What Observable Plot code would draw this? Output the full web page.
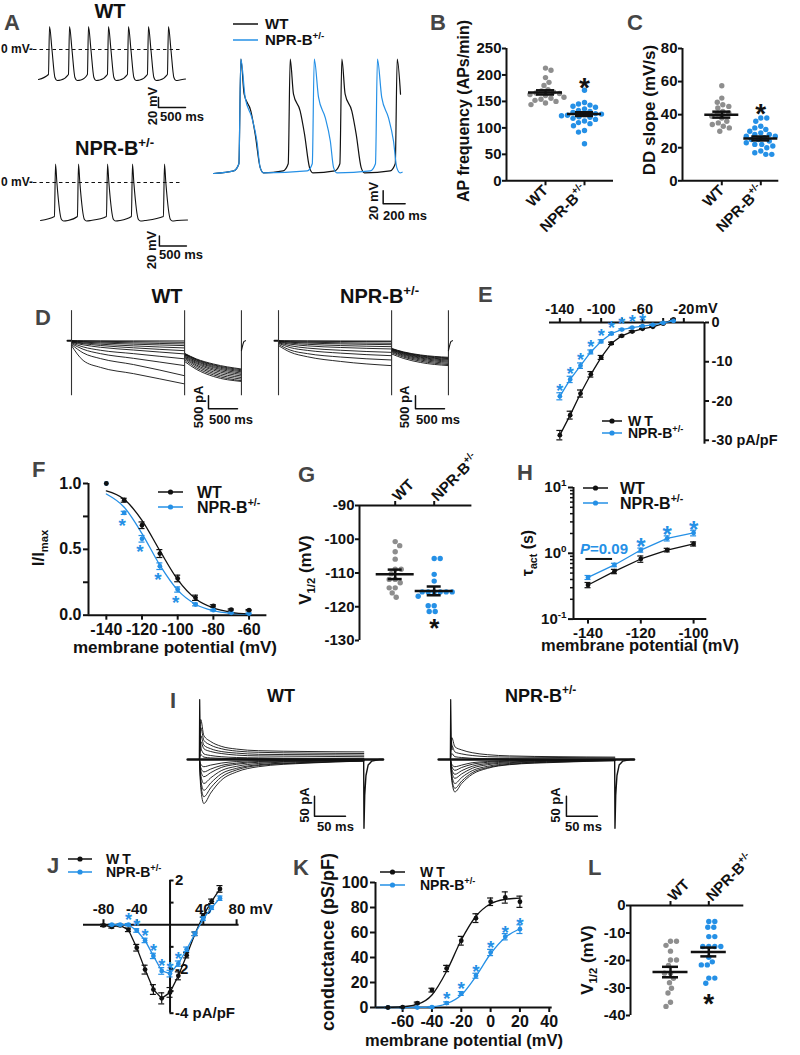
<!DOCTYPE html>
<html>
<head>
<meta charset="utf-8">
<script src="https://cdn.jsdelivr.net/npm/d3@7"></script>
<script src="https://cdn.jsdelivr.net/npm/@observablehq/plot@0.6"></script>
<style>
html,body{margin:0;padding:0;background:#fff;}
#root{position:relative;width:800px;height:1055px;overflow:hidden;background:#fff;}
#root svg{position:absolute;overflow:visible;}
</style>
</head>
<body>
<div id="root"></div>
<script>
// ======================= DATA =======================
// --- A: action potentials (time ms, membrane potential mV) ---
const apWT_spikes  = [204, 574, 925, 1295, 1665, 2035, 2405];
const apWT_shape   = [[-20,-50],[0,46],[45,0],[100,-56],[140,-62],[210,-61]];
const apNPR_spikes = [278, 703, 1240, 1702, 2294];
const apNPR_shape  = [[-20,-68],[0,37],[25,0],[110,-74],[150,-77],[230,-76]];
const ovWT_spikes  = [249, 698, 1168, 1672];
const ovWT_shape   = [[-64,-61],[-18,-50],[0,111],[30,57],[91,31],[130,-4],[176,-56],[206,-64]];
const ovNPR_spikes = [249, 917, 1492];
const ovNPR_shape  = [[-64,-61],[-18,-50],[0,111],[39,52],[100,21],[146,-15],[176,-56],[206,-64]];
const scaleA_WT  = [[2220,-96],[2220,-116],[2720,-116]];
const scaleA_NPR = [[2200,-107],[2200,-127],[2700,-127]];
const scaleA_OV  = [[1544,-91.6],[1544,-111.6],[1744,-111.6]];

// --- B / C: AP frequency and DD slope ---
const groupNames = ["WT", "NPR-B^{+/-}"];
const bWT  = [213,209,195,186,180,172,170,168,166,165,163,161,158,156,154,152,150,147,144];
const bNPR = [171,148,145,143,141,139,136,133,131,129,127,126,125,124,123,121,120,118,116,113,110,108,104,95,92,70];
const bMean = [167, 126], bSem = [4, 3.5];
const cWT  = [57.5,50,47.5,46,45,44,42,41,40.5,39,38,36,35,34,33,32,30];
const cNPR = [38,38,36,33,32,31,30,29,28,28,27,27,26,25,25,24,23,22,22,21,20,18,17,16,16];
const cMean = [40, 25.6], cSem = [1.8, 1.2];

// --- D: If current traces (time ms, current pA) ---
const dT     = [0, 200, 500, 1070, 1950];
const dTailT = [1950, 2150, 2450, 2930];
const dWT = [
  [0,-3,-6,-8,-10],[-5,-15,-25,-40,-65],[-15,-35,-55,-85,-127],[-25,-55,-90,-135,-190],
  [-40,-85,-135,-200,-280],[-50,-115,-185,-275,-385],[-65,-160,-255,-360,-510],
  [-85,-240,-370,-500,-700],[-115,-330,-500,-680,-960],[-150,-470,-690,-920,-1350],
  [-190,-760,-1030,-1270,-1665]];
const dWTtail = [
  [-490,-700,-900,-1090],[-500,-720,-930,-1120],[-510,-740,-960,-1160],[-530,-770,-1000,-1200],
  [-550,-800,-1040,-1250],[-580,-840,-1090,-1300],[-610,-880,-1140,-1360],[-640,-930,-1200,-1420],
  [-680,-980,-1260,-1480],[-730,-1040,-1320,-1540],[-800,-1100,-1380,-1570]];
const dNPR = [
  [0,-3,-6,-10,-15],[-8,-18,-25,-32,-38],[-18,-40,-60,-80,-100],[-28,-62,-92,-124,-154],
  [-42,-95,-140,-188,-231],[-58,-135,-200,-262,-320],[-78,-195,-285,-370,-450],
  [-100,-265,-375,-480,-578],[-140,-360,-500,-630,-744],[-190,-440,-620,-800,-962]];
const dNPRtail = [
  [-300,-430,-550,-640],[-310,-445,-570,-665],[-320,-460,-590,-690],[-335,-480,-615,-720],
  [-350,-500,-640,-750],[-370,-525,-670,-790],[-395,-555,-705,-830],[-420,-590,-745,-875],
  [-460,-630,-790,-920],[-510,-680,-840,-960]];
const dTransients = [0, 1950, 2930];
const dTransientRange = [-2120, 1155];
const dHook = [[2930,-385],[2955,-150],[2975,-30],[3000,0]];
const dBase = [[-69,0],[0,0]];
const scaleD = [[2362,-2118],[2362,-2618],[2862,-2618]];

// --- E: If current density (mV, pA/pF) ---
const eV      = [-140,-130,-120,-110,-100,-90,-80,-70,-60,-50,-40,-30];
const eWT     = [-28.7,-23.6,-18.1,-13.2,-8.9,-5.3,-3.4,-2.3,-1.6,-1.1,-0.3,0.8];
const eWTerr  = [1.2,1.0,0.9,0.7,0.5,0.3,0.2,0.2,0.1,0.1,0.1,0.1];
const eNPR    = [-18.8,-14.5,-11.0,-7.5,-4.8,-2.8,-1.8,-1.3,-0.9,-0.6,-0.1,0.4];
const eNPRerr = [0.9,0.8,0.7,0.5,0.4,0.3,0.2,0.1,0.1,0.1,0.1,0.1];
const eSig    = [-140,-130,-120,-110,-100,-90,-80,-70,-60];
const eXTicks = [-140,-120,-100,-80,-60,-40,-20];
const eXLabels = [-140,-100,-60,-20];
const eYTicks = [0,-10,-20,-30];

// --- F: activation (I/Imax) ---
const fV       = [-140,-130,-120,-110,-100,-90,-80,-70,-60];
const fWT      = [1.0,0.873,0.683,0.468,0.279,0.132,0.071,0.043,0.038];
const fWTerr   = [0,0.015,0.025,0.03,0.025,0.02,0.008,0.005,0.005];
const fNPR     = [1.0,0.777,0.58,0.372,0.195,0.081,0.038,0.018,0.013];
const fNPRerr  = [0,0.012,0.025,0.025,0.02,0.01,0.006,0.004,0.004];
const fWTfit   = [0.944,0.88,0.72,0.49,0.27,0.125,0.055,0.022,0.009];
const fNPRfit  = [0.92,0.82,0.62,0.38,0.19,0.083,0.034,0.013,0.005];
const fSig     = [-130,-120,-110,-100];

// --- G: V1/2 of If activation ---
const gWT  = [-100.7,-101.9,-103.7,-105.9,-108.9,-108.9,-110.2,-111.9,-111.9,-112.9,-114.4,-114.4,-115.9,-117.2];
const gNPR = [-105.7,-105.7,-110.4,-112.4,-115.6,-115.6,-115.6,-115.6,-115.6,-115.6,-116.9,-119.7,-119.7,-121.4,-121.4];
const gMean = [-110.4, -115.3], gSem = [1.4, 1.3];

// --- H: activation time constant (s) ---
const hV      = [-140,-130,-120,-110,-100];
const hWT     = [0.33,0.53,0.82,1.12,1.39];
const hWTerr  = [0.03,0.04,0.09,0.07,0.1];
const hNPR    = [0.43,0.665,1.12,1.69,2.04];
const hNPRerr = [0.03,0.04,0.08,0.15,0.2];
const hSig    = [-120,-110,-100];
const hMinor  = [0.2,0.3,0.4,0.5,0.6,0.7,0.8,0.9,2,3,4,5,6,7,8,9];
const hLabels = {10: "10^{1}", 1: "10^{0}", 0.1: "10^{-1}"};

// --- I: ICa,L traces (time ms, current pA) ---
const iT = [0,2,7,18,35,60,95,175,265];
const iWT = [
  [0,-70,-110,-84,-52,-31,-18,-9,-4],[0,-60,-93,-71,-44,-26,-15,-8,-4],[0,-50,-77,-59,-36,-22,-13,-7,-3],
  [0,-38,-60,-46,-28,-17,-10,-5,-3],[0,-28,-43,-33,-20,-12,-7,-4,-2],[0,-20,-31,-24,-15,-9,-5,-3,-1],
  [0,-12,-18,-14,-9,-5,-3,-2,-1],[0,100,60,45,33,26,22,20,19],[0,80,48,36,27,21,18,16,15],
  [0,60,36,27,20,16,13,12,11],[0,45,27,20,15,11,9,8,7],[0,25,14,10,7,5,4,3,3],[0,12,6,4,3,2,2,1,1]];
const iNPR = [
  [0,-52,-81,-60,-37,-22,-13,-7,-3],[0,-46,-72,-54,-33,-20,-12,-6,-3],[0,-38,-60,-45,-28,-17,-10,-5,-2],
  [0,-30,-47,-36,-22,-13,-8,-4,-2],[0,-24,-37,-28,-17,-10,-6,-3,-1],[0,-17,-27,-20,-12,-7,-4,-2,-1],
  [0,-12,-18,-14,-8,-5,-3,-2,-1],[0,55,32,24,17,12,9,7,6],[0,35,19,14,10,7,6,5,4],[0,15,7,5,3,2,2,1,1]];
const iCap  = [[-0.3,0],[0.3,150],[1.2,50],[2.5,25]];
const iTail = [[264.8,0],[265.3,-172],[266.5,-90],[268.5,-40],[272,-14],[278,-4],[290,0],[296,0]];
const iBase = [[-19,0],[296,0]];
const scaleI_WT  = [[185.5,-91.75],[185.5,-141.75],[235.5,-141.75]];
const scaleI_NPR = [[187,-91.75],[187,-141.75],[237,-141.75]];

// --- J: ICa,L I-V (mV, pA/pF) ---
const jV      = [-80,-70,-60,-50,-40,-30,-20,-10,0,10,20,30,40,50,60];
const jWT     = [-0.03,-0.1,-0.03,-0.23,-1.04,-2.03,-2.93,-3.33,-3.06,-2.31,-1.38,-0.41,0.42,1.06,1.62];
const jWTerr  = [0.05,0.05,0.05,0.08,0.15,0.2,0.22,0.25,0.22,0.18,0.12,0.08,0.08,0.1,0.15];
const jNPR    = [null,0,0,0,-0.26,-0.71,-1.41,-2.09,-2.21,-1.76,-1.11,-0.41,0.27,0.77,1.2];
const jNPRerr = [0,0.04,0.04,0.05,0.08,0.1,0.12,0.15,0.15,0.12,0.1,0.08,0.08,0.08,0.1];
const jSig    = [-50,-40,-30,-20,-10,0,10];
const jXTicks = [-80,-40,40,80];
const jYTicks = [-4,-3,-2,-1,1,2];
const jYLabels = [{v: 2, s: "2"}, {v: -2, s: "-2"}, {v: -4, s: "-4 pA/pF"}];

// --- K: conductance (mV, pS/pF) ---
const kV       = [-70,-60,-50,-40,-30,-20,-10,0,10,20];
const kWT      = [0,0.3,3.5,13.9,31.2,53.4,71.5,84.6,88,84.6];
const kWTerr   = [0.3,0.3,0.8,1.5,2.5,3.5,3.5,3,4.5,4.5];
const kNPR     = [0,0,0,0.3,3.5,11.2,25.4,44,56.6,62.7];
const kNPRerr  = [0.2,0.2,0.3,0.5,1,1.5,2,2.5,2.5,3.5];
const kFitV    = [-78,-70,-60,-50,-40,-30,-20,-10,0,10,20];
const kWTfit   = [0,0.1,0.6,2.5,10,29,54,73,83,86.5,87.5];
const kNPRfit  = [0,0,0,0.1,0.6,3,10,25,43,56,63];
const kSig     = [-30,-20,-10,0,10,20];

// --- L: V1/2 of ICa,L activation ---
const lWT  = [-13,-13,-14.5,-16.6,-19.8,-19.8,-21.8,-24.6,-24.6,-26.5,-28.1,-30.1,-31.8,-35.2,-36.7];
const lNPR = [-5.8,-5.8,-7.9,-7.9,-11.3,-11.3,-14.9,-14.9,-14.9,-14.9,-18.8,-20.5,-21.6,-21.6,-26.4,-26.4,-28.3];
const lMean = [-24.2, -16.9], lSem = [1.9, 1.6];

// ======================= RENDER =======================
const root = document.getElementById("root");
const BLUE = "#2590e6", GRAY = "#8e8e8e", BLK = "#111111", LET = "#454545";
const FONT = '"Liberation Sans", Arial, Helvetica, sans-serif';
const NS = "http://www.w3.org/2000/svg";

function proc(el) {
  const s = el.textContent;
  if (!/[\^_]\{/.test(s)) return;
  const fs = parseFloat(getComputedStyle(el).fontSize) || 15;
  el.textContent = "";
  const re = /([\^_])\{([^}]*)\}/g;
  let cur = 0, last = 0, m;
  const seg = (txt, want, small) => {
    if (!txt) return;
    const t = document.createElementNS(NS, "tspan");
    t.textContent = txt;
    const dy = want - cur;
    if (dy) t.setAttribute("dy", dy);
    cur = want;
    if (small) t.setAttribute("font-size", fs * 0.66);
    el.appendChild(t);
  };
  while ((m = re.exec(s))) {
    seg(s.slice(last, m.index), 0, false);
    seg(m[2], m[1] === "^" ? -0.42 * fs : 0.26 * fs, true);
    last = re.lastIndex;
  }
  seg(s.slice(last), 0, false);
}
function supify(svg) {
  svg.querySelectorAll("text").forEach(el => {
    const ts = el.querySelectorAll("tspan");
    if (ts.length) ts.forEach(proc); else proc(el);
  });
}

function mk(fr, spec, fs = 15) {
  const ml = fr.ml ?? 60, mr = fr.mr ?? 60, mt = fr.mt ?? 40, mb = fr.mb ?? 60;
  const W = fr.x1 - fr.x0 + ml + mr, H = fr.y1 - fr.y0 + mt + mb;
  const svg = Plot.plot({
    width: W, height: H, marginLeft: ml, marginRight: mr, marginTop: mt, marginBottom: mb,
    style: {fontFamily: FONT, fontSize: fs + "px", fontWeight: "bold", color: BLK, background: "transparent", overflow: "visible"},
    ...spec, marks: spec.marks.flat(2).filter(Boolean)
  });
  svg.style.left = (fr.x0 - ml) + "px";
  svg.style.top = (fr.y0 - mt) + "px";
  svg.style.width = W + "px"; svg.style.height = H + "px"; svg.style.maxWidth = "none";
  root.appendChild(svg);
  supify(svg);
  return svg;
}
const AX = {label: null};

function swarm(pys, r) {
  const n = pys.length, order = d3.range(n).sort((a, b) => pys[a] - pys[b]);
  const placed = [], off = new Array(n), dmin = 2 * r + 0.4;
  for (const i of order) {
    const y = pys[i];
    let best = 0;
    for (let k = 0; k < 400; k++) {
      const c = k * 0.5;
      const cands = k === 0 ? [0] : (placed.length % 2 ? [c, -c] : [-c, c]);
      const ok = cands.find(cx => placed.every(p => (p.x - cx) ** 2 + (p.y - y) ** 2 >= dmin * dmin));
      if (ok !== undefined) { best = ok; break; }
    }
    off[i] = best; placed.push({x: best, y});
  }
  return off;
}

function scatter(fr, xpos, yDom, yTicks, groups, means, sems, anchor, star, starFs, meanHalf, capHalf) {
  const pp = xpos[1] - xpos[0];
  const xd = [(fr.x0 - xpos[0]) / pp, (fr.x1 - xpos[0]) / pp];
  const yPx = v => fr.y1 - (v - yDom[0]) / (yDom[1] - yDom[0]) * (fr.y1 - fr.y0);
  const cols = [GRAY, BLUE];
  const dotMarks = groups.map((vals, g) => {
    const offs = swarm(vals.map(yPx), 2.7);
    return Plot.dot(vals.map((v, i) => ({x: g + offs[i] / pp, y: v})), {x: "x", y: "y", r: 2.7, fill: cols[g]});
  });
  const ms = means.map((m, g) => ({g, m, s: sems[g]}));
  const lw = 2.5;
  return mk({...fr, ml: 60, mr: 30, mt: anchor === "top" ? 80 : 20, mb: anchor === "top" ? 30 : 80}, {
    x: {domain: xd, axis: null}, y: {domain: yDom, axis: null},
    marks: [
      dotMarks,
      Plot.ruleY(ms, {y: "m", x1: d => d.g - meanHalf / pp, x2: d => d.g + meanHalf / pp, stroke: BLK, strokeWidth: lw}),
      Plot.ruleX(ms, {x: "g", y1: d => d.m - d.s, y2: d => d.m + d.s, stroke: BLK, strokeWidth: lw}),
      Plot.ruleY(ms, {y: d => d.m + d.s, x1: d => d.g - capHalf / pp, x2: d => d.g + capHalf / pp, stroke: BLK, strokeWidth: lw}),
      Plot.ruleY(ms, {y: d => d.m - d.s, x1: d => d.g - capHalf / pp, x2: d => d.g + capHalf / pp, stroke: BLK, strokeWidth: lw}),
      Plot.ruleX([xd[0]], {stroke: BLK, strokeWidth: 2}),
      Plot.ruleY([anchor === "top" ? yDom[1] : yDom[0]], {stroke: BLK, strokeWidth: 2}),
      Plot.axisY(yTicks, {...AX, anchor: "left", tickSize: 4, tickPadding: 1, strokeWidth: 2, tickFormat: d => String(d)}),
      Plot.axisX([0, 1], {...AX, anchor, tickSize: 5, tickPadding: 2, strokeWidth: 2, tickRotate: -45,
        textAnchor: anchor === "top" ? "start" : "end", tickFormat: i => groupNames[i]}),
      Plot.text([star], {x: "g", y: "y", text: () => "*", fontSize: starFs, fill: BLK})
    ]});
}

function seriesMarks(xs, ys, es, color, capX, withLine = true) {
  const d = xs.map((x, i) => ({x, y: ys[i], e: es ? es[i] : 0})).filter(d => d.y != null);
  const eb = d.filter(d => d.e > 0);
  return [
    withLine ? Plot.line(d, {x: "x", y: "y", stroke: color, strokeWidth: 1.3}) : null,
    Plot.ruleX(eb, {x: "x", y1: d => d.y - d.e, y2: d => d.y + d.e, stroke: color, strokeWidth: 1.2}),
    Plot.ruleY(eb, {y: d => d.y + d.e, x1: d => d.x - capX, x2: d => d.x + capX, stroke: color, strokeWidth: 1.2}),
    Plot.ruleY(eb, {y: d => d.y - d.e, x1: d => d.x - capX, x2: d => d.x + capX, stroke: color, strokeWidth: 1.2}),
    Plot.dot(d, {x: "x", y: "y", r: 2.4, fill: color})
  ];
}

function apTrace(spikes, shape, startV, end, endV) {
  const pts = [{t: 0, v: startV}];
  for (const s of spikes) for (const [dt, v] of shape) {
    const t = s + dt;
    if (t > 0 && t <= end) pts.push({t, v});
  }
  if (endV != null) pts.push({t: end, v: endV});
  return pts;
}
function sweeps(times, rows) {
  const out = [];
  rows.forEach((r, k) => r.forEach((v, j) => out.push({t: times[j], i: v, k})));
  return out;
}

// ---------- A ----------
mk({x0: 38, x1: 185, y0: 24, y1: 109, ml: 10, mr: 10, mt: 10, mb: 10}, {
  x: {domain: [0, 2720], axis: null}, y: {domain: [-120, 50], axis: null},
  marks: [
    Plot.ruleY([0], {x1: -92, x2: 2627, stroke: BLK, strokeWidth: 1.2, strokeDasharray: "3.5 3"}),
    Plot.line(apTrace(apWT_spikes, apWT_shape, -60, 2720, -59), {x: "t", y: "v", stroke: BLK, strokeWidth: 1.1, curve: "monotone-x"}),
    Plot.line(scaleA_WT, {stroke: BLK, strokeWidth: 1.5})
  ]});
mk({x0: 40, x1: 187, y0: 161.7, y1: 246.7, ml: 10, mr: 10, mt: 10, mb: 10}, {
  x: {domain: [0, 2720], axis: null}, y: {domain: [-130, 40], axis: null},
  marks: [
    Plot.ruleY([0], {x1: -130, x2: 2627, stroke: BLK, strokeWidth: 1.2, strokeDasharray: "3.5 3"}),
    Plot.line(apTrace(apNPR_spikes, apNPR_shape, -76, 2720, -75), {x: "t", y: "v", stroke: BLK, strokeWidth: 1.1, curve: "monotone-x"}),
    Plot.line(scaleA_NPR, {stroke: BLK, strokeWidth: 1.5})
  ]});
mk({x0: 213.3, x1: 406, y0: 55.7, y1: 205.2, ml: 10, mr: 10, mt: 10, mb: 10}, {
  x: {domain: [0, 1753.6], axis: null}, y: {domain: [-115, 115], axis: null},
  marks: [
    Plot.line(apTrace(ovWT_spikes, ovWT_shape, -65, 1717), {x: "t", y: "v", stroke: BLK, strokeWidth: 1.2, curve: "monotone-x"}),
    Plot.line(apTrace(ovNPR_spikes, ovNPR_shape, -65, 1717, -63), {x: "t", y: "v", stroke: BLUE, strokeWidth: 1.2, curve: "monotone-x"}),
    Plot.line(scaleA_OV, {stroke: BLK, strokeWidth: 1.5})
  ]});

// ---------- B, C ----------
scatter({x0: 506, x1: 613, y0: 47.7, y1: 180}, [545, 584], [0, 250], [0,50,100,150,200,250],
  [bWT, bNPR], bMean, bSem, "bottom", {g: 1, y: 176}, 28, 17, 9);
scatter({x0: 681.7, x1: 778, y0: 47.7, y1: 180}, [721, 760], [0, 80], [0,20,40,60,80],
  [cWT, cNPR], cMean, cSem, "bottom", {g: 1, y: 40.3}, 28, 17, 9);

// ---------- D ----------
function dPanel(x0, rows, tails) {
  mk({x0, x1: x0 + 178, y0: 308.8, y1: 410.1, ml: 10, mr: 10, mt: 10, mb: 10}, {
    x: {domain: [-69, 3000], axis: null}, y: {domain: [-2700, 1200], axis: null},
    marks: [
      Plot.line(dBase, {stroke: BLK, strokeWidth: 2}),
      Plot.line(sweeps(dT, rows), {x: "t", y: "i", z: "k", stroke: BLK, strokeWidth: 0.9, curve: "monotone-x"}),
      Plot.line(sweeps(dTailT, tails), {x: "t", y: "i", z: "k", stroke: BLK, strokeWidth: 0.9, curve: "monotone-x"}),
      Plot.ruleX(dTransients, {y1: dTransientRange[0], y2: dTransientRange[1], stroke: "#333", strokeWidth: 1.1}),
      Plot.line(dHook, {stroke: BLK, strokeWidth: 1.1, curve: "monotone-x"}),
      Plot.line(scaleD, {stroke: BLK, strokeWidth: 1.5})
    ]});
}
dPanel(67, dWT, dWTtail);
dPanel(274, dNPR, dNPRtail);

// ---------- E ----------
const pxE = 155 / 150;
mk({x0: 548.5, x1: 703.5, y0: 322.3, y1: 444, ml: 20, mr: 90, mt: 30, mb: 20}, {
  x: {domain: [-150, 0], axis: null}, y: {domain: [-31, 0], axis: null},
  marks: [
    Plot.ruleY([0], {stroke: BLK, strokeWidth: 2}),
    Plot.ruleX([0], {stroke: BLK, strokeWidth: 2}),
    Plot.axisX(eXTicks, {...AX, anchor: "top", tickSize: 5, tickPadding: 3, strokeWidth: 2,
      tickFormat: d => eXLabels.includes(d) ? String(d) : ""}),
    Plot.axisY(eYTicks, {...AX, anchor: "right", tickSize: 4, tickPadding: 3, strokeWidth: 2,
      tickFormat: d => d === -30 ? "-30 pA/pF" : String(d)}),
    seriesMarks(eV, eWT, eWTerr, BLK, 3 / pxE),
    seriesMarks(eV, eNPR, eNPRerr, BLUE, 3 / pxE),
    Plot.text(eSig, {x: d => d, y: d => eNPR[eV.indexOf(d)], text: () => "*", fill: BLUE, fontSize: 18, dy: -5})
  ]}, 14.5);

// ---------- F ----------
const pxF = 178.4 / 100;
mk({x0: 88.3, x1: 266.7, y0: 483.3, y1: 615, ml: 60, mr: 20, mt: 20, mb: 50}, {
  x: {domain: [-150, -50], axis: null}, y: {domain: [0, 1], axis: null},
  marks: [
    Plot.ruleX([-150], {stroke: BLK, strokeWidth: 2}),
    Plot.ruleY([0], {stroke: BLK, strokeWidth: 2}),
    Plot.axisY([0, 0.25, 0.5, 0.75, 1], {...AX, anchor: "left", tickSize: 5, tickPadding: 2, strokeWidth: 2,
      tickFormat: d => (d === 0 || d === 0.5 || d === 1) ? d.toFixed(1) : ""}),
    Plot.axisX([-140,-120,-100,-80,-60], {...AX, anchor: "bottom", tickSize: 5, tickPadding: 3, strokeWidth: 2, tickFormat: d => String(d)}),
    Plot.line(fV.map((v, i) => ({x: v, y: fNPRfit[i]})), {x: "x", y: "y", stroke: BLUE, strokeWidth: 1.3, curve: "monotone-x"}),
    Plot.line(fV.map((v, i) => ({x: v, y: fWTfit[i]})), {x: "x", y: "y", stroke: BLK, strokeWidth: 1.3, curve: "monotone-x"}),
    seriesMarks(fV, fNPR, fNPRerr, BLUE, 3 / pxF, false),
    seriesMarks(fV, fWT, fWTerr, BLK, 3 / pxF, false),
    Plot.text(fSig, {x: d => d, y: d => fNPR[fV.indexOf(d)], text: () => "*", fill: BLUE, fontSize: 19, dy: 13.5, dx: -2})
  ]}, 16);

// ---------- G ----------
scatter({x0: 359.3, x1: 471.7, y0: 505, y1: 640}, [395, 434], [-130, -90], [-130,-120,-110,-100,-90],
  [gWT, gNPR], gMean, gSem, "top", {g: 1, y: -126.6}, 26, 19, 7);

// ---------- H ----------
const pxH = 133.3 / 50.5;
mk({x0: 572.7, x1: 706, y0: 486.7, y1: 618.3, ml: 60, mr: 20, mt: 20, mb: 50}, {
  x: {domain: [-145.5, -95], axis: null}, y: {type: "log", domain: [0.1, 10], axis: null},
  marks: [
    Plot.ruleX([-145.5], {stroke: BLK, strokeWidth: 2}),
    Plot.ruleY([0.1], {stroke: BLK, strokeWidth: 2}),
    Plot.axisY(hMinor, {...AX, anchor: "left", tickSize: 3, strokeWidth: 1.5, tickFormat: () => ""}),
    Plot.axisY([0.1, 1, 10], {...AX, anchor: "left", tickSize: 5, tickPadding: 2, strokeWidth: 2, tickFormat: d => hLabels[d]}),
    Plot.axisX([-140, -120, -100], {...AX, anchor: "bottom", tickSize: 5, tickPadding: 3, strokeWidth: 2, tickFormat: d => String(d)}),
    seriesMarks(hV, hWT, hWTerr, BLK, 3 / pxH),
    seriesMarks(hV, hNPR, hNPRerr, BLUE, 3 / pxH),
    Plot.ruleY([0.82], {x1: -140.8, x2: -130.7, stroke: BLK, strokeWidth: 2}),
    Plot.text(hSig, {x: d => d, y: d => hNPR[hV.indexOf(d)], text: () => "*", fill: BLUE, fontSize: 24, dy: -3})
  ]});

// ---------- I ----------
function iPanel(x0, t0x, rows, scaleBar) {
  const xa = (x0 - t0x) * 1.613, xb = (x0 + 196 - t0x) * 1.613;
  mk({x0, x1: x0 + 196, y0: 695.3, y1: 831.3, ml: 10, mr: 10, mt: 10, mb: 10}, {
    x: {domain: [xa, xb], axis: null}, y: {domain: [-180, 160], axis: null},
    marks: [
      Plot.line(iBase, {stroke: BLK, strokeWidth: 2.6}),
      Plot.line(sweeps(iT, rows), {x: "t", y: "i", z: "k", stroke: BLK, strokeWidth: 0.9, curve: "monotone-x"}),
      Plot.line(iCap, {stroke: BLK, strokeWidth: 1.2}),
      Plot.line(iTail, {stroke: BLK, strokeWidth: 1.4}),
      Plot.line(scaleBar, {stroke: BLK, strokeWidth: 1.5})
    ]});
}
iPanel(187, 199, iWT, scaleI_WT);
iPanel(438, 450, iNPR, scaleI_NPR);

// ---------- J ----------
const pxJ = 155.6 / 187, pyJ = 132.7 / 6;
mk({x0: 82.7, x1: 238.3, y0: 880, y1: 1012.7, ml: 20, mr: 60, mt: 30, mb: 20}, {
  x: {domain: [-104, 83], axis: null}, y: {domain: [-4, 2], axis: null},
  marks: [
    Plot.ruleY([0], {stroke: BLK, strokeWidth: 2}),
    Plot.ruleX([0], {stroke: BLK, strokeWidth: 2}),
    Plot.ruleX(jXTicks, {x: d => d, y1: 0, y2: 5 / pyJ, stroke: BLK, strokeWidth: 2}),
    Plot.text(jXTicks.filter(d => d !== 80), {x: d => d, y: 0, dy: -16, text: d => String(d)}),
    Plot.text([80], {x: d => d, y: 0, dy: -16, dx: -8, text: () => "80 mV", textAnchor: "start"}),
    Plot.ruleY(jYTicks, {y: d => d, x1: 0, x2: 4 / pxJ, stroke: BLK, strokeWidth: 2}),
    Plot.text(jYLabels, {x: 0, y: "v", text: "s", textAnchor: "start", dx: 5}),
    seriesMarks(jV, jWT, jWTerr, BLK, 3 / pxJ),
    seriesMarks(jV, jNPR, jNPRerr, BLUE, 3 / pxJ),
    Plot.text(jSig, {x: d => d, y: d => jNPR[jV.indexOf(d)], text: () => "*", fill: BLUE, fontSize: 18, dy: -4.3})
  ]}, 15);

// ---------- K ----------
const pxK = 176.7 / 120.5;
mk({x0: 375, x1: 551.7, y0: 881.7, y1: 1006.7, ml: 50, mr: 20, mt: 20, mb: 40}, {
  x: {domain: [-78.5, 42], axis: null}, y: {domain: [0, 100], axis: null},
  marks: [
    Plot.ruleX([-78.5], {stroke: BLK, strokeWidth: 2}),
    Plot.ruleY([0], {stroke: BLK, strokeWidth: 2}),
    Plot.axisY([0,20,40,60,80,100], {...AX, anchor: "left", tickSize: 5, tickPadding: 2, strokeWidth: 2, tickFormat: d => String(d)}),
    Plot.axisX([-60,-40,-20,0,20,40], {...AX, anchor: "bottom", tickSize: 5, tickPadding: 3, strokeWidth: 2, tickFormat: d => String(d)}),
    Plot.line(kFitV.map((v, i) => ({x: v, y: kNPRfit[i]})), {x: "x", y: "y", stroke: BLUE, strokeWidth: 1.3, curve: "monotone-x"}),
    Plot.line(kFitV.map((v, i) => ({x: v, y: kWTfit[i]})), {x: "x", y: "y", stroke: BLK, strokeWidth: 1.3, curve: "monotone-x"}),
    seriesMarks(kV, kNPR, kNPRerr, BLUE, 3 / pxK, false),
    seriesMarks(kV, kWT, kWTerr, BLK, 3 / pxK, false),
    Plot.text(kSig, {x: d => d, y: d => kNPR[kV.indexOf(d)], text: () => "*", fill: BLUE, fontSize: 19, dy: -4.3})
  ]}, 16);

// ---------- L ----------
scatter({x0: 630, x1: 743.3, y0: 905, y1: 1015}, [670, 708.3], [-40, 0], [-40,-30,-20,-10,0],
  [lWT, lNPR], lMean, lSem, "top", {g: 1, y: -35.7}, 28, 17.5, 8);

// ---------- Overlay text (letters, titles, legends, axis titles) ----------
const ov = [];
const txt = (x, y, s, fs, o = {}) => ov.push(`<text x="${x}" y="${y}" font-size="${fs}" text-anchor="${o.a || "start"}" fill="${o.c || BLK}"${o.ls ? ` letter-spacing="${o.ls}"` : ""}>${s}</text>`);
const rot = (cx, cy, s, fs) => ov.push(`<text transform="translate(${cx},${cy}) rotate(-90)" text-anchor="middle" dy="0.35em" font-size="${fs}" fill="${BLK}">${s}</text>`);
const leg = (x1, x2, tx, rows, fs, dots, ls) => rows.forEach(([y, c, s]) => {
  ov.push(`<line x1="${x1}" x2="${x2}" y1="${y}" y2="${y}" stroke="${c}" stroke-width="1.5"/>`);
  if (dots) ov.push(`<circle cx="${(x1 + x2) / 2}" cy="${y}" r="2.6" fill="${c}"/>`);
  txt(tx, y + fs * 0.36, s, fs, {ls: s === "WT" ? ls : 0});
});

[["A",4,30],["B",430,30],["C",627,30],["D",35,325],["E",478,302],["F",32,477],["G",298,482],
 ["H",517,480],["I",170,708],["J",47,873],["K",293,875],["L",588,875]].forEach(([s, x, y]) => txt(x, y, s, 22, {c: LET}));

txt(110, 18, "WT", 20, {a: "middle"});
txt(75, 155, "NPR-B^{+/-}", 20);
txt(167, 303, "WT", 20, {a: "middle"});
txt(340, 303, "NPR-B^{+/-}", 20);
txt(281, 702, "WT", 18, {a: "middle"});
txt(505, 702, "NPR-B^{+/-}", 18);

txt(33, 53, "0 mV-", 12, {a: "end"});
txt(33, 186, "0 mV-", 12, {a: "end"});
rot(152, 106, "20 mV", 13); txt(160, 121, "500 ms", 13);
rot(151, 250, "20 mV", 13); txt(159, 259, "500 ms", 13);
rot(373, 201, "20 mV", 13); txt(383, 220, "200 ms", 13);
rot(198, 407, "500 pA", 13); txt(209, 424, "500 ms", 13);
rot(404, 407, "500 pA", 13); txt(416, 424, "500 ms", 13);
rot(304, 805, "50 pA", 13); txt(317, 831, "50 ms", 13);
rot(555, 805, "50 pA", 13); txt(565, 831, "50 ms", 13);

leg(233, 258, 265, [[24, BLK, "WT"], [40, BLUE, "NPR-B^{+/-}"]], 15, false, 0);
leg(602, 622, 628, [[421, BLK, "WT"], [433, BLUE, "NPR-B^{+/-}"]], 14, true, 3);
leg(158, 183, 197, [[492, BLK, "WT"], [507, BLUE, "NPR-B^{+/-}"]], 16, true, 0);
leg(583, 608, 620, [[488, BLK, "WT"], [503, BLUE, "NPR-B^{+/-}"]], 16, true, 0);
leg(68, 92, 106, [[859, BLK, "WT"], [872, BLUE, "NPR-B^{+/-}"]], 14, true, 3);
leg(380, 405, 420, [[872, BLK, "WT"], [885, BLUE, "NPR-B^{+/-}"]], 14, true, 3);

rot(463, 111, "AP frequency (APs/min)", 16);
rot(649, 110, "DD slope (mV/s)", 17);
rot(38, 548, "I/I_{max}", 17);
txt(175, 653, "membrane potential (mV)", 17, {a: "middle"});
rot(305, 570, "V_{1/2} (mV)", 17);
rot(527, 553, "τ_{act} (s)", 16);
txt(640, 651, "membrane potential (mV)", 16.5, {a: "middle"});
rot(328, 942, "conductance (pS/pF)", 18);
txt(464, 1046, "membrane potential (mV)", 16.5, {a: "middle"});
rot(587, 960, "V_{1/2} (mV)", 17);
txt(695, 313, "mV", 14.5);
ov.push(`<text x="580" y="554" font-size="15" fill="${BLUE}"><tspan font-style="italic">P</tspan>=0.09</text>`);

const holder = document.createElement("div");
holder.innerHTML = `<svg xmlns="${NS}" width="800" height="1055" style="left:0;top:0" font-family='${FONT}' font-weight="bold">${ov.join("")}</svg>`;
const ovSvg = holder.firstChild;
root.appendChild(ovSvg);
supify(ovSvg);
</script>
</body>
</html>
